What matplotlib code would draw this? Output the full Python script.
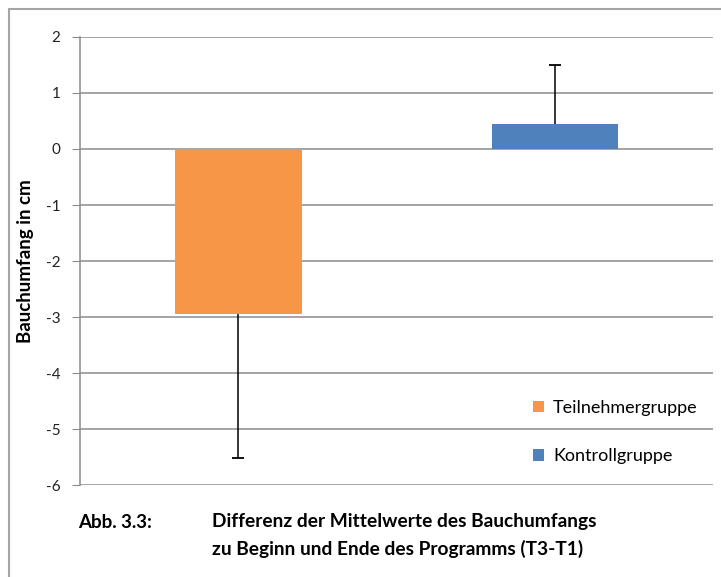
import matplotlib.pyplot as plt
from matplotlib.patches import Rectangle

plt.rcParams['font.family'] = ['Lato', 'DejaVu Sans']

groups = ['Teilnehmergruppe', 'Kontrollgruppe']
means = [-2.95, 0.45]
err_low = [2.57, 0.0]
err_high = [0.0, 1.05]
colors = ['#F79646', '#4F81BD']
yticks = [2, 1, 0, -1, -2, -3, -4, -5, -6]

fig = plt.figure(figsize=(7.21, 5.77), dpi=100)
ax = fig.add_axes([0.111, 0.1594, 0.878, 0.7765])

# Rahmen um das Diagramm
fig.patches.append(Rectangle((9 / 721, -0.1), 1.2, 1 - 9 / 577 + 0.1,
                             transform=fig.transFigure, fill=False,
                             edgecolor='#A6A6A6', linewidth=1.5))

x = [0, 1]
bars = ax.bar(x, means, width=0.4, color=colors, zorder=3)

# einseitige Fehlerbalken, Kappe nur am äußeren Ende
for xi, m, lo, hi in zip(x, means, err_low, err_high):
    end = m - lo if lo > 0 else m + hi
    ax.vlines(xi, m, end, color='black', linewidth=1.1, zorder=4)
    ax.plot([xi], [end], marker='_', markersize=9, markeredgewidth=1.3,
            color='black', linestyle='none', zorder=4)

ax.set_xlim(-0.5, 1.5)
ax.set_ylim(-6, 2)
ax.set_yticks(yticks)
ax.set_yticklabels([str(t) for t in yticks], fontsize=11, color='#222222')
ax.set_xticks([])
ax.yaxis.grid(True, color='#8C8C8C', linewidth=1.1, zorder=0)
ax.tick_params(axis='y', length=6, color='#8C8C8C', pad=8)
for s in ['top', 'right', 'bottom']:
    ax.spines[s].set_visible(False)
ax.spines['left'].set_color('#8C8C8C')
ax.spines['left'].set_linewidth(1.1)
ax.set_ylabel('Bauchumfang in cm', fontsize=13.5, fontweight='bold')
ax.yaxis.set_label_coords(-0.072, 0.5)

leg = ax.legend(bars, groups, loc='lower left', bbox_to_anchor=(0.69, 0.01),
                frameon=False, fontsize=13, handlelength=0.6, handleheight=0.6,
                handletextpad=0.5, labelspacing=1.8)

fig.text(78 / 721, 1 - 522 / 577, 'Abb. 3.3:', fontsize=13.5, fontweight='bold',
         va='center', ha='left')
fig.text(212 / 721, 1 - 522 / 577, 'Differenz der Mittelwerte des Bauchumfangs',
         fontsize=13.8, fontweight='bold', va='center', ha='left')
fig.text(212 / 721, 1 - 549 / 577, 'zu Beginn und Ende des Programms (T3-T1)',
         fontsize=13.8, fontweight='bold', va='center', ha='left')

fig.savefig('out.png', dpi=100)
